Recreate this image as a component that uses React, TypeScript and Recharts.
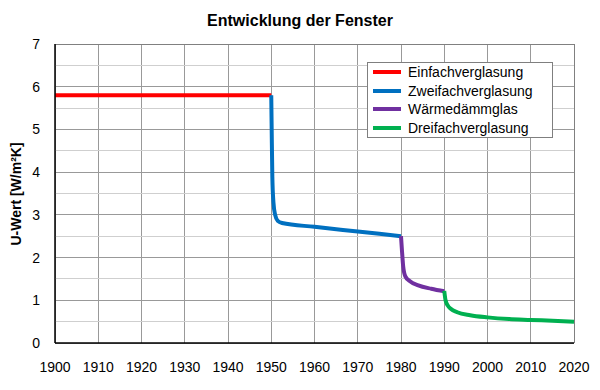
import React from 'react';
import {
  LineChart,
  Line,
  XAxis,
  YAxis,
  CartesianGrid,
  ReferenceLine,
} from 'recharts';

const einfach = [
  { year: 1900, u: 5.8 },
  { year: 1950, u: 5.8 },
];

const zweifach = [
  { year: 1950, u: 5.8 },
  { year: 1950.1, u: 5.0 },
  { year: 1950.25, u: 3.9 },
  { year: 1950.5, u: 3.3 },
  { year: 1950.9, u: 3.0 },
  { year: 1951.5, u: 2.86 },
  { year: 1952.5, u: 2.81 },
  { year: 1960, u: 2.72 },
  { year: 1970, u: 2.61 },
  { year: 1980, u: 2.5 },
];

const waermedaemm = [
  { year: 1980, u: 2.5 },
  { year: 1980.2, u: 2.2 },
  { year: 1980.5, u: 1.8 },
  { year: 1981, u: 1.56 },
  { year: 1982, u: 1.45 },
  { year: 1984, u: 1.35 },
  { year: 1987, u: 1.27 },
  { year: 1990, u: 1.21 },
];

const dreifach = [
  { year: 1990, u: 1.22 },
  { year: 1990.3, u: 1.0 },
  { year: 1990.8, u: 0.88 },
  { year: 1991.5, u: 0.8 },
  { year: 1993, u: 0.72 },
  { year: 1996, u: 0.65 },
  { year: 2000, u: 0.6 },
  { year: 2005, u: 0.56 },
  { year: 2010, u: 0.54 },
  { year: 2015, u: 0.52 },
  { year: 2020, u: 0.5 },
];

const xTicks = [1900, 1910, 1920, 1930, 1940, 1950, 1960, 1970, 1980, 1990, 2000, 2010, 2020];
const yTicks = [0, 1, 2, 3, 4, 5, 6, 7];
const yHalf = [0.5, 1.5, 2.5, 3.5, 4.5, 5.5, 6.5];

const series = [
  { name: 'Einfachverglasung', color: '#ff0000', data: einfach },
  { name: 'Zweifachverglasung', color: '#0070c0', data: zweifach },
  { name: 'Wärmedämmglas', color: '#7030a0', data: waermedaemm },
  { name: 'Dreifachverglasung', color: '#00b050', data: dreifach },
];

const FONT = '"Liberation Sans", Arial, sans-serif';

const LegendBox = () => (
  <div
    style={{
      position: 'absolute',
      left: 367,
      top: 62,
      width: 186,
      boxSizing: 'border-box',
      border: '1px solid #7f7f7f',
      background: '#ffffff',
      padding: '0 0 0 5px',
      fontFamily: FONT,
      fontSize: 14,
      color: '#000',
    }}
  >
    {series.map((s) => (
      <div key={s.name} style={{ display: 'flex', alignItems: 'center', height: 18.5 }}>
        <span
          style={{
            display: 'inline-block',
            width: 28,
            height: 4,
            background: s.color,
            marginRight: 7,
          }}
        />
        <span>{s.name}</span>
      </div>
    ))}
  </div>
);

export default function App() {
  return (
    <div style={{ position: 'absolute', left: 0, top: 0, width: 600, height: 390, background: '#fff' }}>
      <LineChart width={600} height={390} margin={{ top: 44, right: 26, bottom: 17, left: 0 }}>
        {yHalf.map((v) => (
          <ReferenceLine key={'h' + v} y={v} stroke="#cfcfcf" strokeWidth={1} shapeRendering="crispEdges" />
        ))}
        <CartesianGrid stroke="#999999" strokeWidth={1} shapeRendering="crispEdges" />
        <ReferenceLine y={7} stroke="#808080" strokeWidth={1} shapeRendering="crispEdges" />
        <ReferenceLine x={2020} stroke="#808080" strokeWidth={1} shapeRendering="crispEdges" />
        <XAxis
          dataKey="year"
          type="number"
          domain={[1900, 2020]}
          ticks={xTicks}
          tickSize={0}
          tickMargin={19}
          axisLine={{ stroke: '#000', strokeWidth: 1.5 }}
          tick={{ fill: '#000', fontSize: 14, fontFamily: FONT }}
        />
        <YAxis
          type="number"
          domain={[0, 7]}
          ticks={yTicks}
          width={55}
          tickSize={0}
          tickMargin={15}
          axisLine={{ stroke: '#000', strokeWidth: 1.5 }}
          tick={{ fill: '#000', fontSize: 14, fontFamily: FONT }}
        />
        {series.map((s) => (
          <Line
            key={s.name}
            data={s.data}
            dataKey="u"
            name={s.name}
            type="monotone"
            stroke={s.color}
            strokeWidth={4}
            dot={false}
            activeDot={false}
            isAnimationActive={false}
          />
        ))}
        <text x={300} y={26} textAnchor="middle" fontWeight="bold" fontSize={16} fontFamily={FONT} fill="#000">
          Entwicklung der Fenster
        </text>
        <text
          transform="translate(21,194) rotate(-90)"
          textAnchor="middle"
          fontWeight="bold"
          fontSize={14}
          fontFamily={FONT}
          fill="#000"
        >
          U-Wert [W/m²K]
        </text>
      </LineChart>
      <LegendBox />
    </div>
  );
}
